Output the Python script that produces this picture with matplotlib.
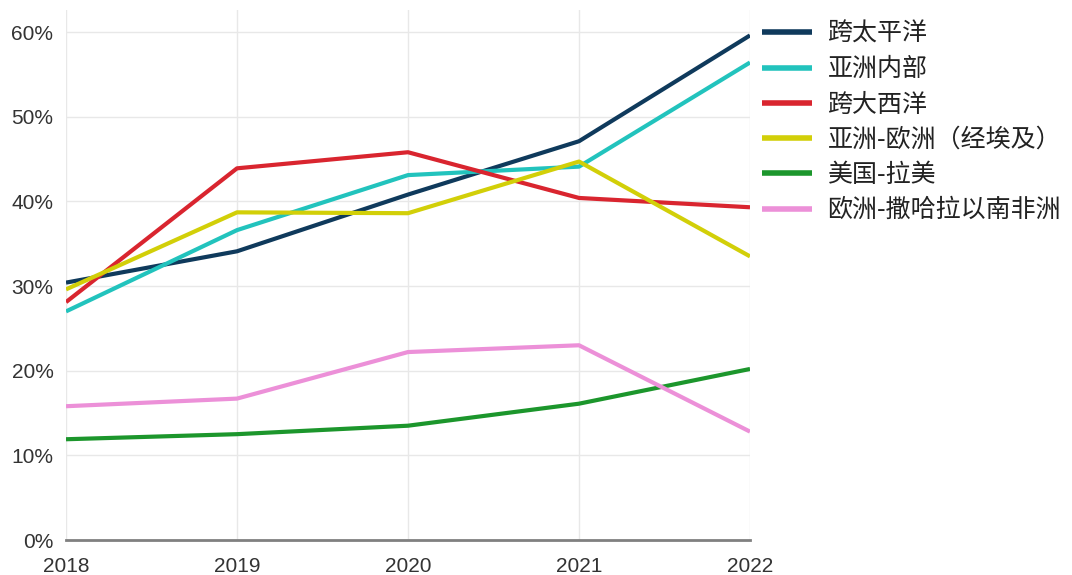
import matplotlib
matplotlib.use("Agg")
import matplotlib.pyplot as plt
import numpy as np

years = [2018, 2019, 2020, 2021, 2022]
names = ["跨太平洋", "亚洲内部", "跨大西洋", "亚洲-欧洲（经埃及）", "美国-拉美", "欧洲-撒哈拉以南非洲"]
transpacific = [30.4, 34.1, 40.8, 47.1, 59.6]
intra_asia = [27.0, 36.6, 43.1, 44.1, 56.4]
transatlantic = [28.1, 43.9, 45.8, 40.4, 39.3]
asia_europe = [29.6, 38.7, 38.6, 44.7, 33.5]
us_latam = [11.9, 12.5, 13.5, 16.1, 20.2]
europe_ssa = [15.8, 16.7, 22.2, 23.0, 12.8]
yticks = [0, 10, 20, 30, 40, 50, 60]

series = [transpacific, intra_asia, transatlantic, asia_europe, us_latam, europe_ssa]
colors = ["#0f3a5c", "#22c3bd", "#d9252f", "#d2cf08", "#1c962c", "#ec90d8"]

plt.rcParams['font.family'] = ['Liberation Sans', 'DejaVu Sans']

fig = plt.figure(figsize=(10.72, 5.75), dpi=100)
ax = fig.add_axes([66/1072, 35/575, (750-66)/1072, (565-35)/575])

for vals, c, n in zip(series, colors, names):
    ax.plot(years, vals, color=c, lw=3, label=n, solid_capstyle="butt")

ax.set_xlim(2018, 2022)
ax.set_ylim(0, 62.6)
ax.set_xticks(years)
ax.set_yticks(yticks)
ax.set_yticklabels(["%d%%" % v for v in yticks])
ax.grid(True, color="#e8e8e8", lw=1)
ax.set_axisbelow(True)
for s in ["top", "right", "left"]:
    ax.spines[s].set_visible(False)
ax.spines["bottom"].set_color("#808080")
ax.spines["bottom"].set_linewidth(2)
ax.tick_params(length=0, labelsize=15, colors="#333333")
ax.tick_params(axis="y", pad=9)
ax.tick_params(axis="x", pad=12)

leg = ax.legend(loc="upper left", bbox_to_anchor=(762/1072, 1 - 21/575),
                bbox_transform=fig.transFigure, frameon=False,
                borderpad=0, borderaxespad=0, handlelength=2.0,
                handletextpad=0.62, labelspacing=0.37,
                prop={"family": ["Noto Sans CJK SC", "DejaVu Sans"], "size": 18})
for line in leg.get_lines():
    line.set_linewidth(4)
for t in leg.get_texts():
    t.set_color("#222222")

fig.savefig("out.png", dpi=100)
